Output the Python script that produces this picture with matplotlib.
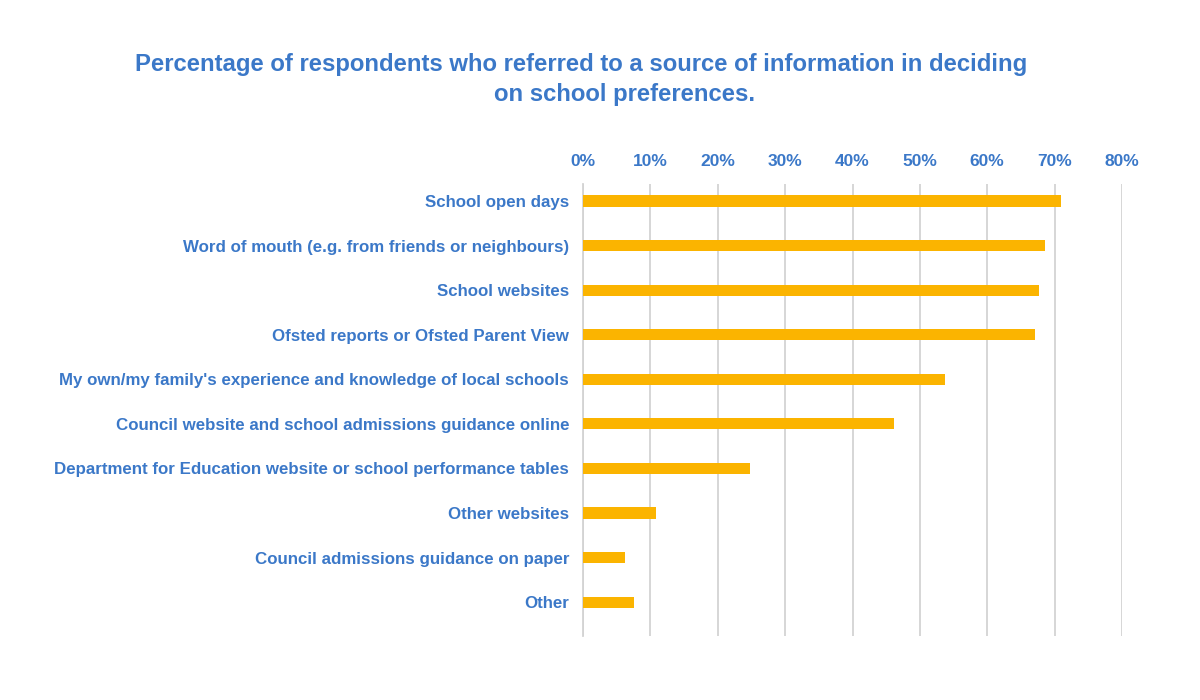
import matplotlib
matplotlib.use("Agg")
import matplotlib.pyplot as plt
from matplotlib.ticker import FixedLocator

categories = [
    "School open days",
    "Word of mouth (e.g. from friends or neighbours)",
    "School websites",
    "Ofsted reports or Ofsted Parent View",
    "My own/my family's experience and knowledge of local schools",
    "Council website and school admissions guidance online",
    "Department for Education website or school performance tables",
    "Other websites",
    "Council admissions guidance on paper",
    "Other",
]
values = [70.9, 68.6, 67.7, 67.1, 53.8, 46.2, 24.8, 10.9, 6.3, 7.6]
x_ticks = [0, 10, 20, 30, 40, 50, 60, 70, 80]
x_tick_labels = ["0%", "10%", "20%", "30%", "40%", "50%", "60%", "70%", "80%"]
title_lines = [
    "Percentage of respondents who referred to a source of information in deciding",
    "on school preferences.",
]

BLUE = "#3B78C8"
GOLD = "#FBB400"
GRID = "#D3D3D3"

plt.rcParams["font.family"] = ["Liberation Sans", "DejaVu Sans"]

fig = plt.figure(figsize=(12, 7), dpi=100)
ax = fig.add_axes([583 / 1200, 1 - 636 / 700, (1122 - 583) / 1200, (636 - 184) / 700])

ypos = list(range(len(categories)))
ax.barh(ypos, values, height=0.25, color=GOLD, zorder=3)

ax.set_xlim(0, 80)
ax.set_ylim(len(categories) - 1 + 0.76, -0.38)
ax.xaxis.set_major_locator(FixedLocator(x_ticks))
ax.set_xticklabels(x_tick_labels)
ax.xaxis.tick_top()
ax.set_yticks(ypos)
ax.set_yticklabels(categories)
ax.tick_params(axis="x", length=0, pad=11, labelsize=12.5, labelcolor=BLUE)
ax.tick_params(axis="y", length=0, pad=10, labelsize=12.2, labelcolor=BLUE)
for lbl in ax.get_xticklabels() + ax.get_yticklabels():
    lbl.set_fontweight("bold")

ax.grid(axis="x", color=GRID, linewidth=1.3, zorder=0)
for s in ["top", "right", "bottom"]:
    ax.spines[s].set_visible(False)
ax.spines["left"].set_color(GRID)
ax.spines["left"].set_linewidth(1.3)

fig.text(581 / 1200, 1 - 65 / 700, title_lines[0], ha="center", va="center",
         fontsize=17.2, fontweight="bold", color=BLUE)
fig.text(625 / 1200, 1 - 95 / 700, title_lines[1], ha="center", va="center",
         fontsize=17.2, fontweight="bold", color=BLUE)

fig.savefig("out.png", dpi=100)
